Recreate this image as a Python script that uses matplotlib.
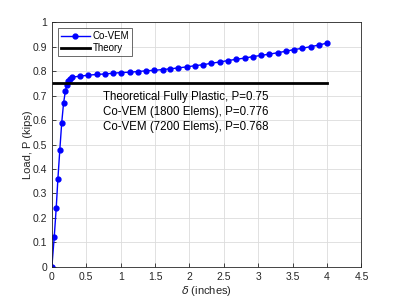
import numpy as np
from matplotlib import pyplot as plt

# displacement (inches) and load (kips)
delta = [0.0, 0.034, 0.063, 0.087, 0.115, 0.143, 0.17, 0.197, 0.218, 0.24, 0.265, 0.29,
         0.41, 0.53, 0.65, 0.77, 0.89, 1.01, 1.13, 1.25, 1.37, 1.49, 1.61, 1.72, 1.84,
         1.96, 2.08, 2.20, 2.32, 2.44, 2.56, 2.68, 2.80, 2.92, 3.04, 3.16, 3.28, 3.40,
         3.52, 3.64, 3.76, 3.88, 4.00]
load = [0.0, 0.12, 0.24, 0.357, 0.476, 0.589, 0.67, 0.72, 0.745, 0.76, 0.77, 0.776,
        0.780, 0.784, 0.787, 0.789, 0.792, 0.795, 0.796, 0.799, 0.802, 0.804, 0.807,
        0.810, 0.814, 0.818, 0.823, 0.827, 0.833, 0.838, 0.844, 0.849, 0.854, 0.860,
        0.865, 0.870, 0.876, 0.882, 0.889, 0.894, 0.901, 0.907, 0.916]
theory_x = [0.0, 4.0]
theory_p = [0.75, 0.75]
notes = ['Theoretical Fully Plastic, P=0.75',
         'Co-VEM (1800 Elems), P=0.776',
         'Co-VEM (7200 Elems), P=0.768']

plt.rcParams['font.family'] = ['Liberation Sans', 'DejaVu Sans']
fig = plt.figure(figsize=(3.99, 2.99), dpi=100)
ax = fig.add_axes([0.13, 0.108, 0.776, 0.817])

ax.plot(delta, load, '-o', color='b', lw=1.0, ms=3.5, label='Co-VEM')
ax.plot(theory_x, theory_p, '-', color='k', lw=2.0, label='Theory')

ax.text(0.75, 0.633, '\n'.join(notes), fontsize=8.3, va='center', ha='left',
        linespacing=1.35, color='k')

ax.set_xlim(0, 4.5)
ax.set_ylim(0, 1)
ax.set_xticks(np.arange(0, 4.51, 0.5))
ax.set_yticks(np.arange(0, 1.01, 0.1))
ax.set_xticklabels(['0', '0.5', '1', '1.5', '2', '2.5', '3', '3.5', '4', '4.5'])
ax.set_yticklabels(['0', '0.1', '0.2', '0.3', '0.4', '0.5', '0.6', '0.7', '0.8', '0.9', '1'])
ax.grid(True, color='#dcdcdc', lw=0.6)
ax.set_axisbelow(True)
ax.tick_params(direction='in', length=3, labelsize=7.5, colors='#262626', width=0.6)
for s in ax.spines.values():
    s.set_color('#262626')
    s.set_linewidth(0.6)

ax.set_xlabel(r'$\delta$ (inches)', fontsize=8, color='#262626', labelpad=2)
ax.set_ylabel('Load, P (kips)', fontsize=8, color='#262626', labelpad=0)

leg = ax.legend(loc='upper left', fontsize=7, frameon=True, fancybox=False,
                borderpad=0.3, handlelength=3.0, labelspacing=0.2,
                handletextpad=0.3, borderaxespad=0.6)
leg.get_frame().set_edgecolor('#262626')
leg.get_frame().set_linewidth(0.6)

fig.savefig('out.png', dpi=100)
